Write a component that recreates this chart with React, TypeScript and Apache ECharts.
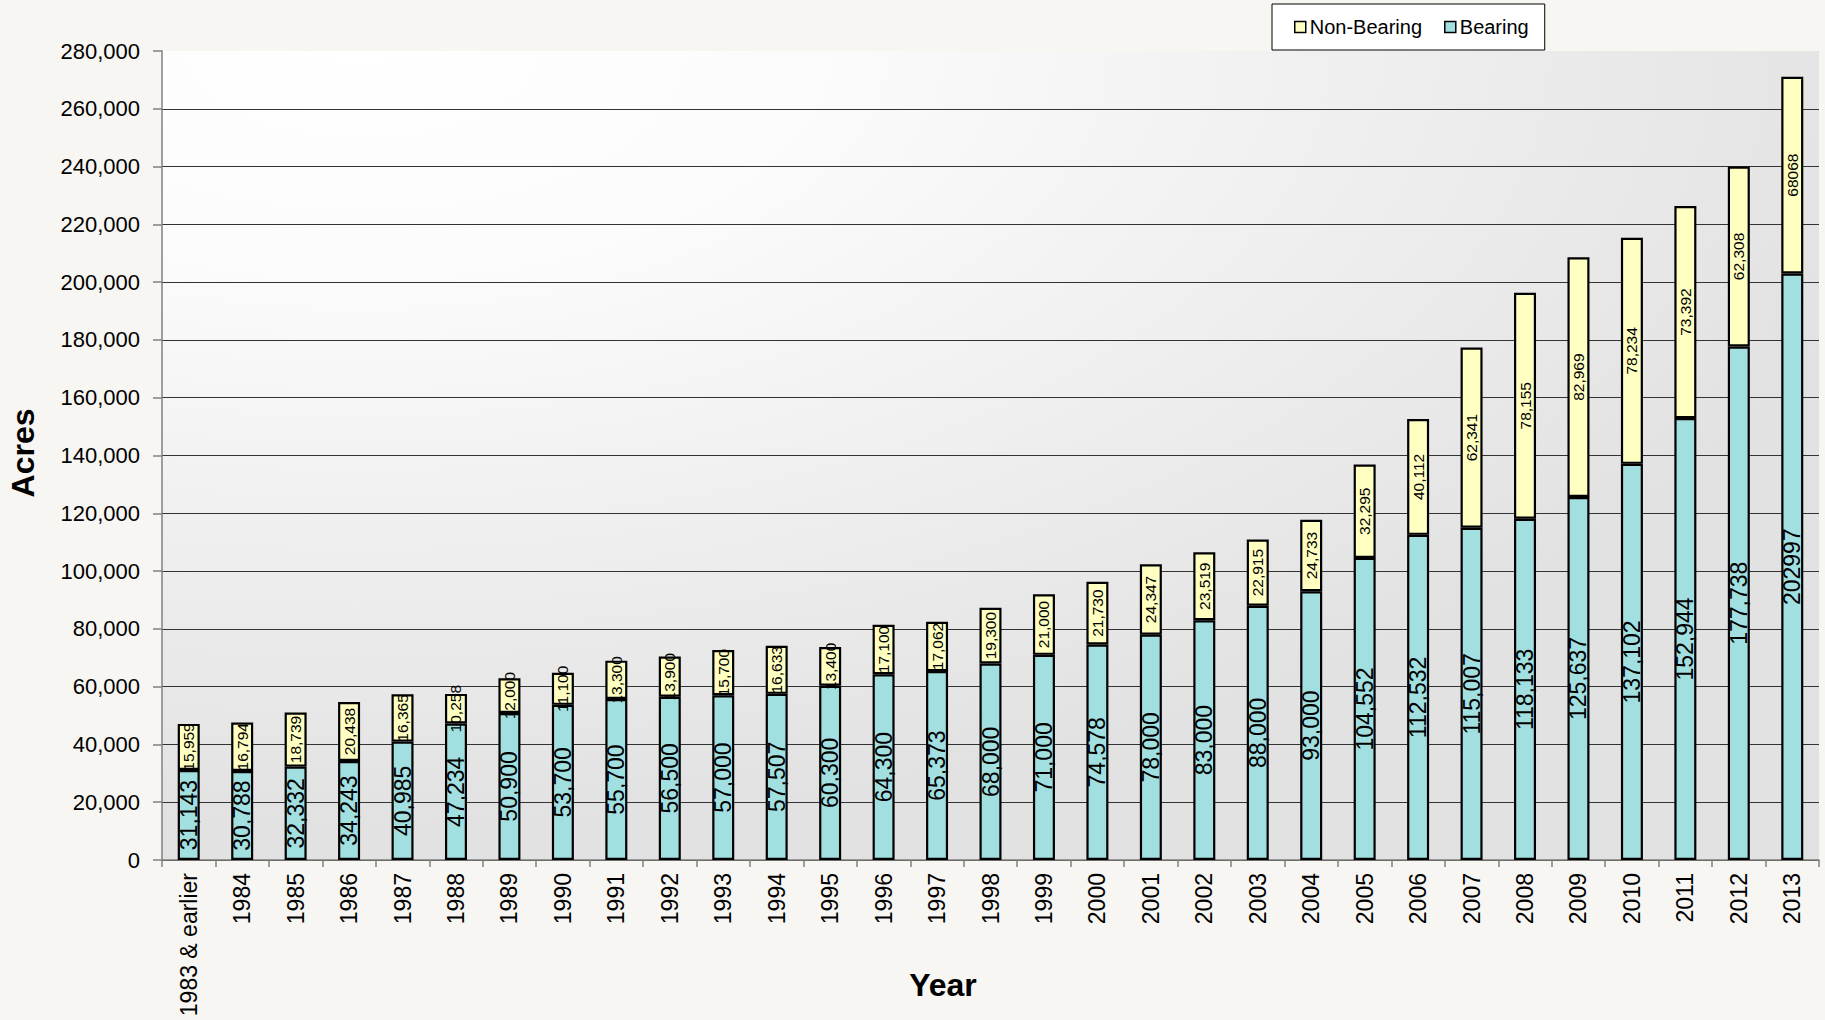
import React, { useEffect, useRef } from 'react';
import * as echarts from 'echarts';

const categories = [
  '1983 & earlier', '1984', '1985', '1986', '1987', '1988', '1989', '1990', '1991', '1992',
  '1993', '1994', '1995', '1996', '1997', '1998', '1999', '2000', '2001', '2002',
  '2003', '2004', '2005', '2006', '2007', '2008', '2009', '2010', '2011', '2012', '2013',
];

const bearing = [
  31143, 30788, 32332, 34243, 40985, 47234, 50900, 53700, 55700, 56500,
  57000, 57507, 60300, 64300, 65373, 68000, 71000, 74578, 78000, 83000,
  88000, 93000, 104552, 112532, 115007, 118133, 125637, 137102, 152944, 177738, 202997,
];

const nonBearing = [
  15959, 16794, 18739, 20438, 16365, 10258, 12000, 11100, 13300, 13900,
  15700, 16633, 13400, 17100, 17062, 19300, 21000, 21730, 24347, 23519,
  22915, 24733, 32295, 40112, 62341, 78155, 82969, 78234, 73392, 62308, 68068,
];

// categories whose bar labels are printed without thousands separators
const plainLabelCategories = ['2013'];

const yTicks = { min: 0, max: 280000, interval: 20000 };

const FONT = '"Liberation Sans", Arial, sans-serif';

export default function App() {
  const ref = useRef<HTMLDivElement>(null);

  useEffect(() => {
    const chart = echarts.init(ref.current as HTMLDivElement, null, { renderer: 'svg' });
    const fmt = (p: any) =>
      plainLabelCategories.includes(p.name)
        ? String(p.value)
        : Number(p.value).toLocaleString('en-US');

    chart.setOption({
      animation: false,
      backgroundColor: '#f7f6f2',
      textStyle: { fontFamily: FONT },
      grid: {
        left: 162,
        right: 6,
        top: 51,
        bottom: 160,
        show: true,
        borderWidth: 0,
        backgroundColor: {
          type: 'radial',
          x: 0.12,
          y: 0,
          r: 0.95,
          colorStops: [
            { offset: 0, color: '#ffffff' },
            { offset: 0.3, color: '#fbfbfb' },
            { offset: 1, color: '#e2e2e2' },
          ],
        },
      },
      legend: {
        data: ['Non-Bearing', 'Bearing'],
        left: 1272,
        top: 4,
        orient: 'horizontal',
        padding: [13, 16, 13, 22],
        itemGap: 22,
        itemWidth: 11,
        itemHeight: 11,
        icon: 'rect',
        backgroundColor: '#ffffff',
        borderColor: '#000000',
        borderWidth: 1,
        borderRadius: 0,
        itemStyle: { borderWidth: 1.5, borderColor: '#000' },
        textStyle: { fontSize: 20, color: '#000', fontFamily: FONT, padding: [0, 0, 0, -1] },
      },
      xAxis: {
        type: 'category',
        data: categories,
        axisLine: { show: true, lineStyle: { color: '#808080', width: 1.5 } },
        axisTick: { show: true, length: 7, lineStyle: { color: '#808080', width: 1.5 } },
        axisLabel: {
          rotate: 90,
          interval: 0,
          margin: 13,
          fontSize: 23,
          color: '#000',
          fontFamily: FONT,
        },
        splitLine: { show: false },
      },
      yAxis: {
        type: 'value',
        min: yTicks.min,
        max: yTicks.max,
        interval: yTicks.interval,
        axisLine: { show: true, lineStyle: { color: '#808080', width: 1.5 } },
        axisTick: { show: true, length: 9, lineStyle: { color: '#808080', width: 1.5 } },
        axisLabel: {
          margin: 22,
          fontSize: 22,
          color: '#000',
          fontFamily: FONT,
          formatter: (v: number) => v.toLocaleString('en-US'),
        },
        splitLine: {
          show: true,
          showMaxLine: false,
          lineStyle: { color: '#333333', width: 1 },
        },
      },
      series: [
        {
          name: 'Bearing',
          type: 'bar',
          stack: 'total',
          data: bearing,
          barWidth: 22,
          itemStyle: { color: '#a2dfe0', borderColor: '#000', borderWidth: 2.2 },
          label: {
            show: true,
            position: 'inside',
            rotate: 90,
            fontSize: 23,
            color: '#000',
            fontFamily: FONT,
            formatter: fmt,
          },
        },
        {
          name: 'Non-Bearing',
          type: 'bar',
          stack: 'total',
          data: nonBearing,
          barWidth: 22,
          itemStyle: { color: '#ffffc2', borderColor: '#000', borderWidth: 2.2 },
          label: {
            show: true,
            position: 'inside',
            rotate: 90,
            fontSize: 15.5,
            color: '#000',
            fontFamily: FONT,
            formatter: fmt,
          },
        },
      ],
      graphic: [
        {
          type: 'text',
          x: 23,
          y: 453,
          rotation: Math.PI / 2,
          style: {
            text: 'Acres',
            font: `bold 32px ${FONT}`,
            fill: '#000',
            textAlign: 'center',
            textVerticalAlign: 'middle',
          },
        },
        {
          type: 'text',
          x: 943,
          y: 985,
          style: {
            text: 'Year',
            font: `bold 32px ${FONT}`,
            fill: '#000',
            textAlign: 'center',
            textVerticalAlign: 'middle',
          },
        },
      ],
    });

    return () => chart.dispose();
  }, []);

  return (
    <div
      ref={ref}
      style={{ position: 'absolute', left: 0, top: 0, width: 1825, height: 1020 }}
    />
  );
}
